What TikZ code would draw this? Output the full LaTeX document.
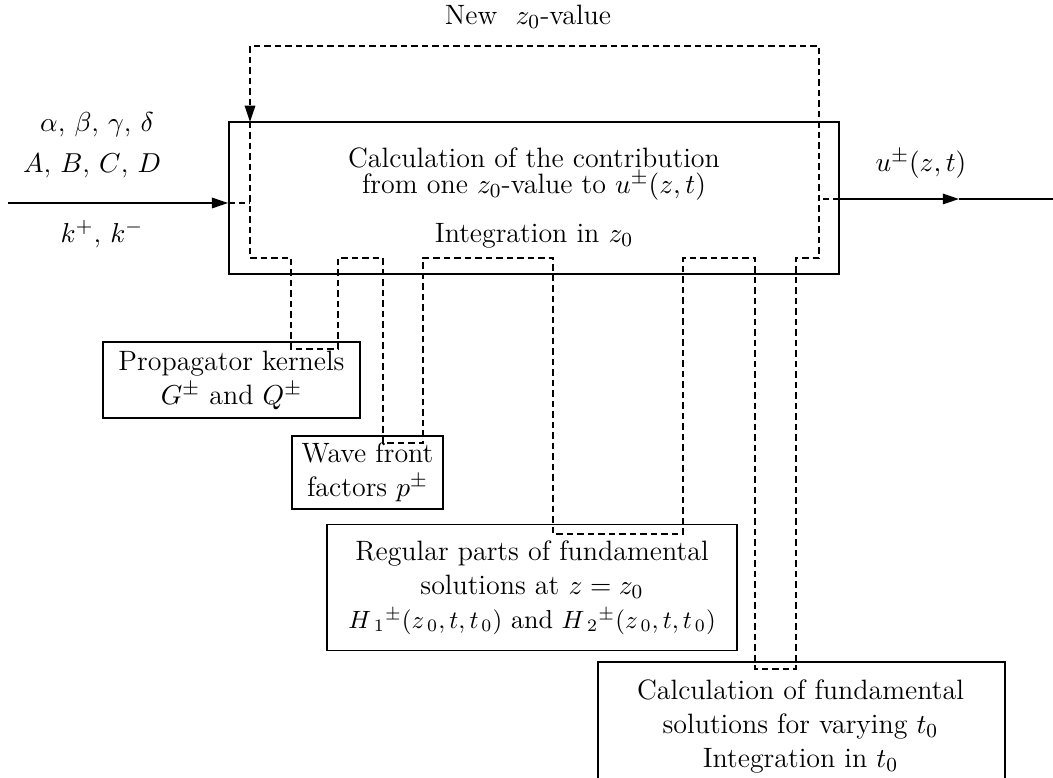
\documentclass[tikz,border=0pt]{standalone}
\usetikzlibrary{arrows.meta}
\begin{document}
\begin{tikzpicture}[x=0.4pt,y=-0.4pt,
    every node/.style={font=\fontsize{11.2}{13.6}\selectfont},
    box/.style={draw, line width=0.7pt, align=center, inner sep=0pt},
    flow/.style={line width=0.7pt},
    feedback/.style={line width=0.5pt, dash pattern=on 2.6pt off 1.6pt},
    tip/.style={-{Triangle[length=6.5pt,width=4.2pt]}}]
    % Fix the frame
    \useasboundingbox (0,0) rectangle (1053,778);

    % Main box
    \node[box, minimum width=244pt, minimum height=60.8pt] (main) at (534,198)
        {Calculation of the contribution\\[-3pt] from one $z_0$-value to $u^{\pm}(z,t)$\\[6pt] Integration in $z_0$};

    % Boxes below
    \node[box, minimum width=102.8pt, minimum height=30.4pt] (kern) at (231.5,380)
        {Propagator kernels\\ $G^{\pm}$ and $Q^{\pm}$};
    \node[box, minimum width=60.4pt, minimum height=29.2pt] (wave) at (367.5,472.5)
        {Wave front\\ factors $p^{\pm}$};
    \node[box, minimum width=164pt, minimum height=50.4pt] (reg) at (532,587.5)
        {Regular parts of fundamental\\ solutions at $z=z_0$\\
         {\fontsize{10.4}{13}\selectfont $H\mkern2mu{}_1{}^{\pm}(z\mkern2mu{}_0, t, t\mkern2mu{}_0)$ and $H\mkern2mu{}_2{}^{\pm}(z\mkern2mu{}_0, t, t\mkern2mu{}_0)$}};
    \node[box, anchor=north west, minimum width=162.8pt, minimum height=52pt] (calc) at (597,661) {};
    \node[anchor=north, align=center, inner sep=0pt] (calctext) at (800.5,679)
        {Calculation of fundamental\\ solutions for varying $t_0$\\ Integration in $t_0$};

    % Input and output labels
    \node (greek) at (97,125) {$\alpha$, $\beta$, $\gamma$, $\delta$};
    \node (latin) at (92,166) {$A$, $B$, $C$, $D$};
    \node (kpm) at (102,234) {$k^{+}$, $k^{-}$};
    \node (uout) at (921,164) {$u^{\pm}(z,t)$};
    \node (newz) at (528,17) {New~ $z_0$-value};

    % Input and output arrows
    \coordinate (inl) at (8,203);
    \coordinate (outtip) at (959,199);
    \coordinate (outr) at (1053,199);
    \draw[flow, tip] (inl) -- (inl -| main.west);
    \draw[flow, tip] (outtip -| main.east) -- (outtip);
    \draw[flow] (outtip) -- (outr);

    % Dashed loop over the z0-values
    \draw[feedback] (inl -| main.west) -- (250,203);
    \draw[feedback] (outtip -| main.east) -- (819,199);
    \draw[feedback, tip] (250,258) -- (291,258) -- (291,349) -- (338,349) -- (338,258)
        -- (383,258) -- (383,443) -- (423,443) -- (423,258)
        -- (553,258) -- (553,534) -- (683,534) -- (683,258)
        -- (755,258) -- (755,669) -- (796,669) -- (796,258)
        -- (819,258) -- (819,46) -- (250,46) -- (250,122);
    \draw[feedback] (250,122) -- (250,258);
\end{tikzpicture}
\end{document}
